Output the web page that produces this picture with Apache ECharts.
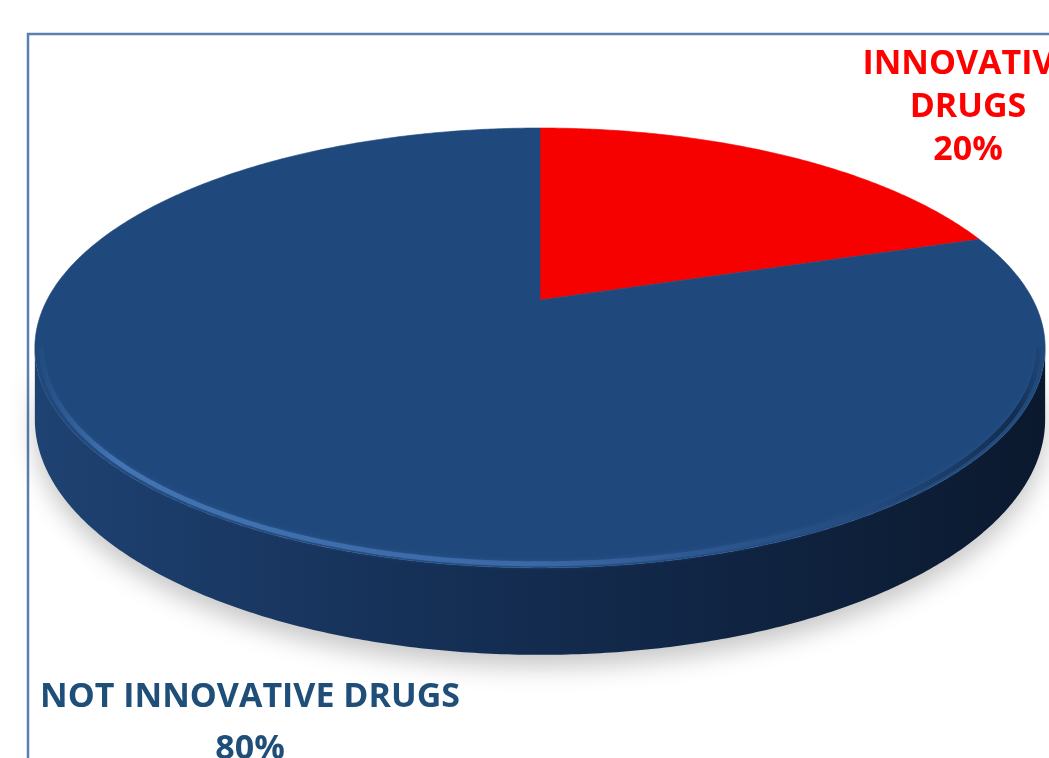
<!DOCTYPE html>
<html>
<head>
<meta charset="utf-8">
<script src="https://cdn.jsdelivr.net/npm/echarts@6/dist/echarts.min.js"></script>
<style>
html,body{margin:0;padding:0;background:#fff;}
#chart{width:1049px;height:758px;}
</style>
</head>
<body>
<div id="chart"></div>
<script>
// ---- data ----
const categories = ['INNOVATIVE DRUGS', 'NOT INNOVATIVE DRUGS'];
const values = [20, 80];

// ---- styles / layout (not data) ----
const sliceColors = ['#f70000', '#1f497d'];
const labelColors = ['#ff0000', '#1f4e79'];
const labelLayout = [
  { x: 968, y: 107, lineHeight: 43, split: true },
  { x: 250, y: 723, lineHeight: 52, split: false }
];

// perspective disc parameters
const CX = 540, CY = 300, A = 493, B = 209.5, K = 0.218, D0 = 68;
function proj(t, r, drop) {
  const u = Math.sin(t) * r, v = Math.cos(t) * r, w = 1 + K * v;
  return [CX + A * u / w, CY - B * v / w + (drop ? D0 / w : 0)];
}
function arc(t1, t2, r, drop) {
  const pts = [];
  const n = Math.max(2, Math.ceil(Math.abs(t2 - t1) / (Math.PI / 360)));
  for (let i = 0; i <= n; i++) pts.push(proj(t1 + (t2 - t1) * i / n, r, drop));
  return pts;
}

const total = values.reduce((a, b) => a + b, 0);
const starts = [];
let acc = 0;
values.forEach(v => { starts.push(acc / total * Math.PI * 2); acc += v; });

const visA = Math.acos(-K), visB = Math.PI * 2 - Math.acos(-K);

function renderItem(params, api) {
  const i = params.dataIndex;
  const ts = starts[i];
  const te = ts + values[i] / total * Math.PI * 2;
  const children = [];

  // side wall (front, visible part)
  const s1 = Math.max(ts, visA), s2 = Math.min(te, visB);
  if (s2 > s1) {
    const top = arc(s1, s2, 1, false);
    const bot = arc(s2, s1, 1, true);
    const sideGrad = new echarts.graphic.LinearGradient(35, 0, 1045, 0, [
      { offset: 0, color: i === 0 ? '#b00000' : '#1e4272' },
      { offset: 0.45, color: i === 0 ? '#8a0000' : '#142d52' },
      { offset: 1, color: i === 0 ? '#600000' : '#0b192e' }
    ], true);
    children.push({
      type: 'polygon', z2: 1,
      shape: { points: top.concat(bot) },
      style: { fill: sideGrad, shadowBlur: 24, shadowColor: 'rgba(0,0,0,0.22)', shadowOffsetY: 12 }
    });
  }

  // top face
  const face = [[CX, CY]].concat(arc(ts, te, 1, false));
  children.push({
    type: 'polygon', z2: 10,
    shape: { points: face },
    style: { fill: sliceColors[i], stroke: sliceColors[i], lineWidth: 0.6 }
  });

  // soft bevel highlight along the front rim
  const b1 = Math.max(ts, visA), b2 = Math.min(te, visB);
  if (b2 > b1 && i === 1) {
    const rim = arc(b1, b2, 0.988, false);
    const rimGrad = new echarts.graphic.LinearGradient(35, 0, 1045, 0, [
      { offset: 0, color: 'rgba(80,130,195,0.0)' },
      { offset: 0.08, color: 'rgba(80,130,195,0.7)' },
      { offset: 0.5, color: 'rgba(75,120,185,0.6)' },
      { offset: 0.8, color: 'rgba(40,75,125,0.4)' },
      { offset: 0.97, color: 'rgba(8,20,40,0.6)' },
      { offset: 1, color: 'rgba(8,20,40,0.0)' }
    ], true);
    children.push({
      type: 'polyline', z2: 11,
      shape: { points: rim },
      style: { stroke: rimGrad, lineWidth: 5, fill: null, shadowBlur: 5, shadowColor: 'rgba(60,110,180,0.5)' }
    });
  }

  // label
  const L = labelLayout[i];
  const name = L.split ? categories[i].split(' ').join('\n') : categories[i];
  const pct = Math.round(values[i] / total * 100) + '%';
  children.push({
    type: 'text', z2: 20,
    x: L.x, y: L.y,
    style: {
      text: name + '\n' + pct,
      fill: labelColors[i],
      fontFamily: '"Open Sans", "Noto Sans", sans-serif',
      fontWeight: 'bold',
      fontSize: 34,
      lineHeight: L.lineHeight,
      align: 'center', verticalAlign: 'middle',
      textAlign: 'center', textVerticalAlign: 'middle'
    }
  });

  return { type: 'group', children };
}

const chart = echarts.init(document.getElementById('chart'), null, { renderer: 'canvas' });
chart.setOption({
  animation: false,
  backgroundColor: '#ffffff',
  graphic: [{
    type: 'rect', z: -1,
    shape: { x: 28, y: 34, width: 1100, height: 800 },
    style: { fill: null, stroke: '#5b80ad', lineWidth: 2.5 }
  }],
  series: [{
    type: 'custom',
    coordinateSystem: 'none',
    renderItem: renderItem,
    data: values.map((v, i) => ({ name: categories[i], value: v }))
  }]
});
</script>
</body>
</html>
